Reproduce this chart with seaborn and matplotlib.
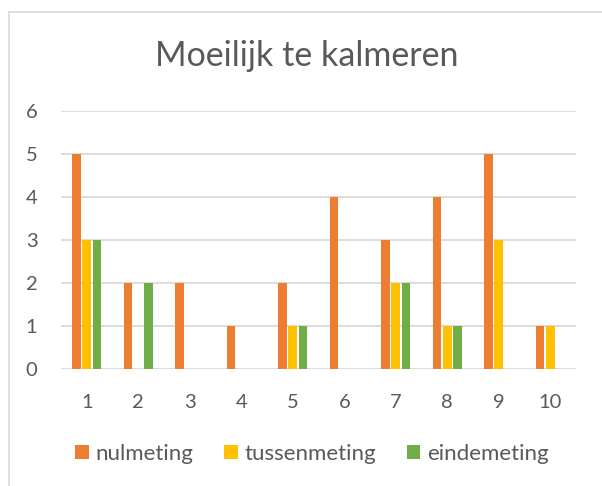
import pandas as pd
import matplotlib
matplotlib.use("Agg")
import matplotlib.pyplot as plt
import seaborn as sns
from matplotlib.lines import Line2D

# values
categories = ["1", "2", "3", "4", "5", "6", "7", "8", "9", "10"]
nulmeting = [5, 2, 2, 1, 2, 4, 3, 4, 5, 1]
tussenmeting = [3, 0, 0, 0, 1, 0, 2, 1, 3, 1]
eindemeting = [3, 2, 0, 0, 1, 0, 2, 1, 0, 0]
series = ["nulmeting", "tussenmeting", "eindemeting"]
colors = ["#ED7D31", "#FFC000", "#70AD47"]

df = pd.DataFrame({
    "meting": categories * 3,
    "waarde": nulmeting + tussenmeting + eindemeting,
    "serie": [s for s in series for _ in categories],
})

sns.set_style("white")
plt.rcParams['font.family'] = ['Lato', 'DejaVu Sans']
text_col = "#595959"
grid_col = "#D9D9D9"

fig = plt.figure(figsize=(6.02, 4.86), dpi=100)
ax = fig.add_axes([61 / 602, 1 - 369 / 486, 515 / 602, 258 / 486])

sns.barplot(data=df, x="meting", y="waarde", hue="serie", hue_order=series,
            palette=colors, width=0.6, gap=0.15, linewidth=0, saturation=1,
            ax=ax, legend=True)

ax.set_ylim(0, 6)
ax.set_yticks(range(7))
ax.set_xlim(-0.5, 9.5)
ax.set_axisbelow(True)
ax.yaxis.grid(True, color=grid_col, linewidth=1.3)
ax.xaxis.grid(False)
for sp in ax.spines.values():
    sp.set_visible(False)
ax.set_xlabel("")
ax.set_ylabel("")
ax.tick_params(axis="y", length=0, pad=17, labelsize=14.5, labelcolor=text_col)
ax.tick_params(axis="x", length=0, pad=18, labelsize=14.5, labelcolor=text_col)

# legend below the plot
handles, labels = ax.get_legend_handles_labels()
ax.get_legend().remove()
fig.legend(handles, labels, loc="center", bbox_to_anchor=(312 / 602, 1 - 454 / 486),
           ncol=3, frameon=False, fontsize=16, labelcolor=text_col,
           handlelength=0.6, handleheight=0.6, handletextpad=0.3,
           columnspacing=1.4)

fig.text(307 / 602, 1 - 56 / 486, "Moeilijk te kalmeren", ha="center", va="center",
         fontsize=24.5, color=text_col)

# chart border (only left and top visible in the crop)
fig.add_artist(Line2D([8.5 / 602, 8.5 / 602], [0, 1 - 12 / 486], color=grid_col,
                      linewidth=1.2, transform=fig.transFigure))
fig.add_artist(Line2D([8.5 / 602, 1], [1 - 12 / 486, 1 - 12 / 486], color=grid_col,
                      linewidth=1.2, transform=fig.transFigure))

fig.savefig("out.png", dpi=100, facecolor="white")
